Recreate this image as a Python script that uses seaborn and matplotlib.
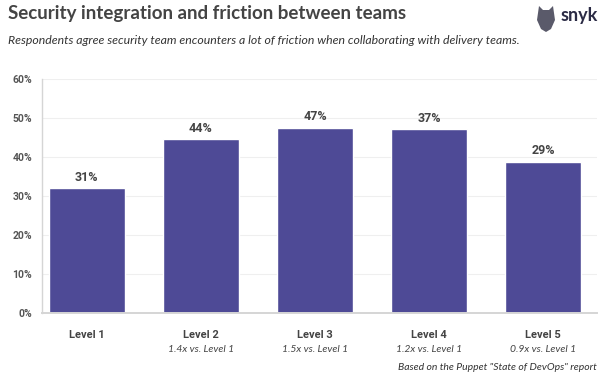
import matplotlib
matplotlib.use("Agg")
import matplotlib.pyplot as plt
import matplotlib.transforms as mtransforms
from matplotlib.patches import Polygon
import numpy as np
import pandas as pd
import seaborn as sns

# data
levels = ["Level 1", "Level 2", "Level 3", "Level 4", "Level 5"]
bar_heights = [32.0, 44.5, 47.5, 47.2, 38.8]
bar_labels = ["31%", "44%", "47%", "37%", "29%"]
vs_labels = ["", "1.4x vs. Level 1", "1.5x vs. Level 1", "1.2x vs. Level 1", "0.9x vs. Level 1"]
y_ticks = [0, 10, 20, 30, 40, 50, 60]

title = "Security integration and friction between teams"
subtitle = ("Respondents agree security team encounters a lot of friction "
            "when collaborating with delivery teams.")
footer = 'Based on the Puppet "State of DevOps" report'

BAR = "#4e4a96"
DARK = "#444444"
TICK = "#555555"

sns.set_theme(style="white")
plt.rcParams["font.family"] = ["Roboto", "DejaVu Sans"]

W, H = 602, 386
fig = plt.figure(figsize=(W / 100, H / 100), dpi=100)
ax = fig.add_axes([42 / W, 73 / H, (597 - 42) / W, 234 / H])

df = pd.DataFrame({"level": levels, "value": bar_heights})
sns.barplot(data=df, x="level", y="value", color=BAR, saturation=1,
            width=0.665, ax=ax)

ax.set_ylim(0, 60)
ax.set_xlim(-0.39, 4.47)
ax.set_yticks(y_ticks)
ax.set_yticklabels([f"{t}%" for t in y_ticks], fontsize=7.5,
                   fontweight="bold", color=TICK)
ax.set_xticks(range(len(levels)))
ax.set_xticklabels(levels, fontsize=8, fontweight="bold", color=DARK)
ax.tick_params(axis="y", length=0, pad=7)
ax.tick_params(axis="x", length=0, pad=12)
ax.set_xlabel("")
ax.set_ylabel("")

ax.yaxis.grid(True, color="#efefef", linewidth=0.8)
ax.set_axisbelow(True)
for side in ["top", "right"]:
    ax.spines[side].set_visible(False)
ax.spines["left"].set_color("#d5d5d5")
ax.spines["left"].set_linewidth(1.0)
ax.spines["bottom"].set_color("#d5d5d5")
ax.spines["bottom"].set_linewidth(1.4)

for i, (h, lab) in enumerate(zip(bar_heights, bar_labels)):
    ax.text(i, h + 1.1, lab, ha="center", va="bottom", fontsize=9,
            fontweight="bold", color=DARK)

trans = mtransforms.blended_transform_factory(ax.transData, fig.transFigure)
for i, lab in enumerate(vs_labels):
    if lab:
        fig.text(i, 1 - 349 / H, lab, transform=trans, ha="center",
                 va="center", fontsize=7.5, style="italic", color=DARK,
                 family=["Lato", "DejaVu Sans"])

fig.text(8 / W, 1 - 14 / H, title, ha="left", va="center", fontsize=13.5,
         fontweight="bold", color=DARK, family=["Lato", "DejaVu Sans"])
fig.text(8 / W, 1 - 41 / H, subtitle, ha="left", va="center", fontsize=8.8,
         style="italic", color="#333333", family=["Lato", "DejaVu Sans"])
fig.text(597 / W, 1 - 368 / H, footer, ha="right", va="center", fontsize=7.5,
         style="italic", color="#333333", family=["Lato", "DejaVu Sans"])

# snyk logo
fig.text(598 / W, 1 - 16 / H, "snyk", ha="right", va="center", fontsize=13,
         fontweight="bold", color="#2b2b45", family=["Lato", "DejaVu Sans"])
shield = np.array([[539, 6], [543, 10], [549, 10], [553, 6], [555, 20],
                   [551, 29], [546, 32], [541, 29], [537, 20]], dtype=float)
shield[:, 0] /= W
shield[:, 1] = 1 - shield[:, 1] / H
fig.patches.append(Polygon(shield, closed=True, transform=fig.transFigure,
                           facecolor="#5a5a6a", edgecolor="none"))

fig.savefig("out.png", dpi=100)
